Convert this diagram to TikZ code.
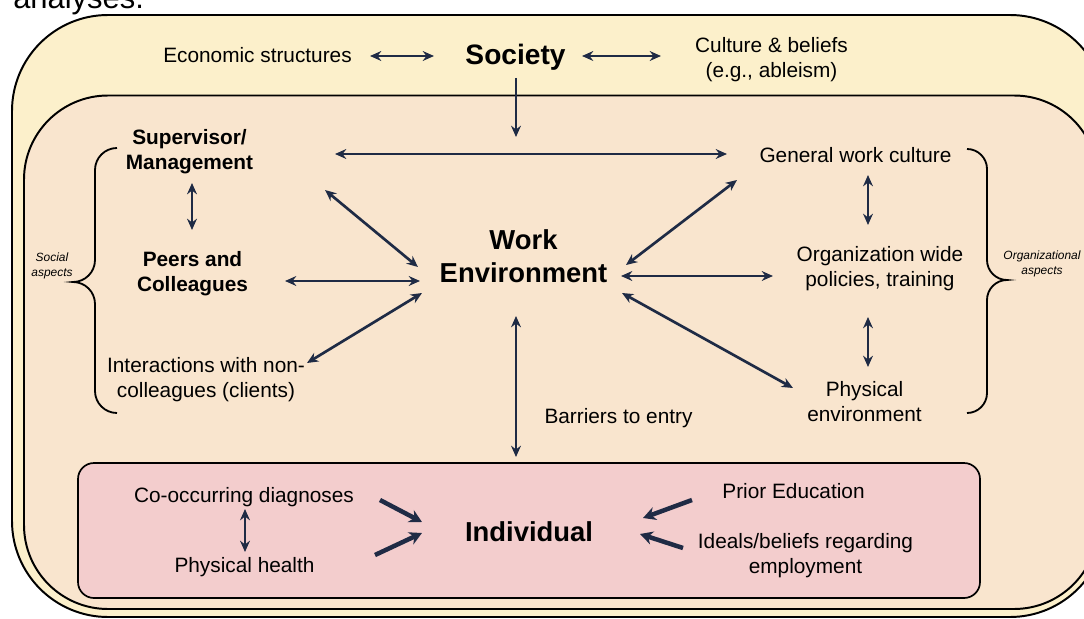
\documentclass[tikz,border=0pt]{standalone}
\usepackage{fontspec}
\setmainfont{Liberation Sans}
\usetikzlibrary{arrows.meta}
\definecolor{outerbg}{HTML}{FCF0CB}
\definecolor{innerbg}{HTML}{F9E5CE}
\definecolor{indivbg}{HTML}{F3CDCD}
\definecolor{navy}{HTML}{1F2B45}

\begin{document}
\begin{tikzpicture}[scale=0.25, >={Stealth[length=8pt,width=7pt]}]
\tikzstyle{every node}+=[inner sep=0pt]
\tikzstyle{txt}=[font=\fontsize{14.8}{17.8}\selectfont, align=center]
\tikzstyle{bold}=[font=\fontsize{14.8}{17.8}\selectfont\bfseries, align=center]
\tikzstyle{big}=[font=\fontsize{19.5}{22.8}\selectfont\bfseries, align=center]
\tikzstyle{aside}=[font=\fontsize{8.5}{10}\selectfont\itshape, align=center]
\tikzstyle{both}=[navy, line width=1.9pt, <->]
\tikzstyle{one}=[navy, line width=1.9pt, ->]
\tikzstyle{heavy}=[navy, line width=3.2pt, -{Stealth[length=9pt,width=9.5pt]}]
\useasboundingbox (0,0) rectangle (108.4,-61.9);
\draw [black, line width=1.4pt, fill=outerbg, rounded corners=2.4cm] (1.2,-1.5) rectangle (110.6,-61.7);
\draw [black, line width=1.4pt, fill=innerbg, rounded corners=2.1cm] (2.4,-9.55) rectangle (109.8,-60.9);
\draw [black, line width=1.2pt, fill=indivbg, rounded corners=0.4cm] (7.8,-46.3) rectangle (98.0,-59.8);
\draw [black, line width=1.3pt] (11.7,-14.8) arc (90:180:2.2) -- (9.5,-26.0) arc (0:-90:2.2) arc (90:0:2.2) -- (9.5,-39.1) arc (180:270:2.2);
\draw [black, line width=1.3pt] (96.7,-14.9) arc (90:0:2.0) -- (98.7,-26.0) arc (180:270:2.0) arc (90:180:2.0) -- (98.7,-39.3) arc (0:-90:2.0);
\node (caption) [anchor=base west, font=\fontsize{22}{26}\selectfont] at (1.3,-0.9) {analyses.};
\node (econ) [txt, anchor=base] at (25.75,-6.3) {Economic structures};
\node (soc) [big, font=\fontsize{20}{24}\selectfont\bfseries, anchor=base] at (51.55,-6.5) {Society};
\node (cult) [txt] at (77.15,-5.96) {Culture \& beliefs\\(e.g., ableism)};
\node (sup) [bold] at (18.95,-15.21) {Supervisor/\\Management};
\node (gen) [txt, anchor=base] at (85.55,-16.2) {General work culture};
\node (peers) [bold] at (19.25,-27.41) {Peers and\\Colleagues};
\node (work) [big] at (52.35,-25.62) {Work\\Environment};
\node (orgp) [txt] at (88.0,-26.91) {Organization wide\\policies, training};
\node (social) [aside] at (5.2,-26.59) {Social\\aspects};
\node (orgasp) [aside] at (104.2,-26.39) {Organizational\\aspects};
\node (inter) [txt] at (20.6,-38.01) {Interactions with non-\\colleagues (clients)};
\node (phys) [txt] at (86.45,-40.2) {Physical\\environment};
\node (barrier) [txt, anchor=base] at (61.85,-42.3) {Barriers to entry};
\node (cooc) [txt, anchor=base] at (24.4,-50.2) {Co-occurring diagnoses};
\node (health) [txt, anchor=base] at (24.45,-57.2) {Physical health};
\node (indiv) [big, anchor=base] at (52.9,-54.1) {Individual};
\node (prior) [txt, anchor=base] at (79.35,-49.8) {Prior Education};
\node (ideals) [txt] at (80.55,-55.56) {Ideals/beliefs regarding\\employment};
\coordinate (econR) at (37.0,-5.6);
\coordinate (socL) at (43.4,-5.6);
\coordinate (socR) at (58.2,-5.6);
\coordinate (cultL) at (66.1,-5.6);
\coordinate (socB) at (51.6,-7.8);
\coordinate (workT) at (51.6,-13.7);
\coordinate (supR) at (33.5,-15.4);
\coordinate (genL) at (72.7,-15.4);
\coordinate (supB) at (19.2,-18.3);
\coordinate (peersT) at (19.2,-23.0);
\coordinate (supD) at (32.5,-19.0);
\coordinate (workNW) at (41.8,-26.7);
\coordinate (peersR) at (28.5,-28.1);
\coordinate (workW) at (42.0,-28.1);
\coordinate (interR) at (30.7,-36.3);
\coordinate (workSW) at (42.2,-29.3);
\coordinate (workNE) at (62.6,-26.5);
\coordinate (genD) at (73.7,-18.0);
\coordinate (workE) at (62.1,-27.6);
\coordinate (orgpL) at (77.3,-27.6);
\coordinate (workSE) at (62.2,-29.3);
\coordinate (physL) at (79.3,-38.8);
\coordinate (genB) at (86.8,-17.5);
\coordinate (orgpT) at (86.8,-22.5);
\coordinate (orgpB) at (86.8,-31.7);
\coordinate (physT) at (86.8,-36.7);
\coordinate (workB) at (51.6,-31.6);
\coordinate (indivT) at (51.6,-45.7);
\coordinate (coocB) at (24.5,-50.9);
\coordinate (healthT) at (24.5,-55.2);
\coordinate (coocR) at (38.0,-50.0);
\coordinate (indivNW) at (42.2,-52.2);
\coordinate (healthR) at (37.5,-55.5);
\coordinate (indivSW) at (42.2,-53.3);
\coordinate (priorL) at (69.2,-50.0);
\coordinate (indivNE) at (64.3,-51.8);
\coordinate (idealsL) at (68.3,-54.8);
\coordinate (indivSE) at (64.0,-53.4);
\draw [both] (econR) -- (socL);
\draw [both] (socR) -- (cultL);
\draw [one] (socB) -- (workT);
\draw [both] (supR) -- (genL);
\draw [both] (supB) -- (peersT);
\draw [both] (supD) -- (workNW);
\draw [both] (peersR) -- (workW);
\draw [both] (interR) -- (workSW);
\draw [both] (workNE) -- (genD);
\draw [both] (workE) -- (orgpL);
\draw [both] (workSE) -- (physL);
\draw [both] (genB) -- (orgpT);
\draw [both] (orgpB) -- (physT);
\draw [both] (workB) -- (indivT);
\draw [both] (coocB) -- (healthT);
\draw [heavy] (coocR) -- (indivNW);
\draw [heavy] (healthR) -- (indivSW);
\draw [heavy] (priorL) -- (indivNE);
\draw [heavy] (idealsL) -- (indivSE);
\end{tikzpicture}
\end{document}
